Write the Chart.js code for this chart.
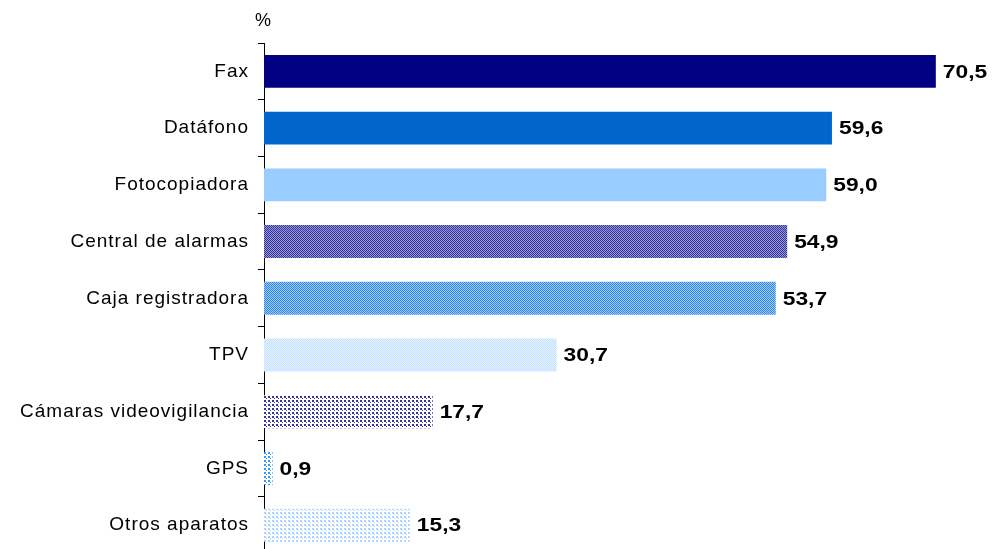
<!DOCTYPE html>
<html>
<head>
<meta charset="utf-8">
<script src="https://cdn.jsdelivr.net/npm/chart.js@4.4.1/dist/chart.umd.min.js"></script>
<style>
  html, body { margin: 0; padding: 0; background: #fff; overflow: hidden; }
</style>
</head>
<body>
<canvas id="equipos" width="993" height="574"></canvas>
<script>
// categories and values (%)
const categories = ["Fax", "Datáfono", "Fotocopiadora", "Central de alarmas", "Caja registradora", "TPV", "Cámaras videovigilancia", "GPS", "Otros aparatos"];
const values = [70.5, 59.6, 59.0, 54.9, 53.7, 30.7, 17.7, 0.9, 15.3];

// small tile patterns like the excel fills
function pattern(bg, fg, kind) {
  const c = document.createElement("canvas");
  c.width = 4; c.height = 4;
  const g = c.getContext("2d");
  g.fillStyle = bg;
  g.fillRect(0, 0, 4, 4);
  g.fillStyle = fg;
  if (kind === "checker") {
    for (let y = 0; y < 4; y++)
      for (let x = 0; x < 4; x++)
        if ((x + y) % 2 === 0) g.fillRect(x, y, 1, 1);
  } else {
    // dots
    g.fillRect(0, 0, 2, 2);
    g.fillRect(2, 2, 1, 1);
  }
  return g.createPattern(c, "repeat");
}

const ctx = document.getElementById("equipos").getContext("2d");

const colors = [
  "#000080",
  "#0066CC",
  "#99CCFF",
  pattern("#9999D6", "#333399", "checker"),
  pattern("#99CCFF", "#3385E0", "checker"),
  pattern("#E6F2FF", "#C2E0FF", "checker"),
  pattern("#FFFFFF", "#333399", "dots"),
  pattern("#FFFFFF", "#3399FF", "dots"),
  pattern("#FFFFFF", "#A8D3FF", "dots"),
];

const spacing = {
  id: "spacing",
  beforeDraw(chart) {
    chart.ctx.letterSpacing = "1px";
  },
};

const valueLabels = {
  id: "valueLabels",
  afterDatasetsDraw(chart) {
    const c = chart.ctx;
    const meta = chart.getDatasetMeta(0);
    c.save();
    c.letterSpacing = "0px";
    c.font = "bold 19px 'Liberation Sans', Arial, sans-serif";
    c.fillStyle = "#000";
    c.textBaseline = "middle";
    meta.data.forEach((bar, i) => {
      c.save();
      c.translate(bar.x + 7, bar.y + 1);
      c.scale(1.2, 1);
      c.fillText(values[i].toFixed(1).replace(".", ","), 0, 0);
      c.restore();
    });
    // "%" axis caption
    c.font = "18px 'Liberation Sans', Arial, sans-serif";
    c.textAlign = "center";
    c.fillText("%", 263, 21);
    c.restore();
  },
};

let myChart = new Chart(ctx, {
  type: "bar",
  data: {
    labels: categories,
    datasets: [
      {
        data: values,
        backgroundColor: colors,
        barPercentage: 0.58,
        categoryPercentage: 1,
      },
    ],
  },
  options: {
    indexAxis: "y",
    responsive: false,
    animation: false,
    layout: { padding: { top: 43, bottom: 2, left: 0, right: 0 } },
    plugins: {
      legend: { display: false },
      tooltip: { enabled: false },
    },
    scales: {
      x: {
        display: false,
        min: 0,
        max: 76.5,
      },
      y: {
        afterFit(scale) {
          scale.width = 264;
        },
        border: { display: true, color: "#000", width: 1 },
        grid: {
          display: true,
          drawOnChartArea: false,
          offset: true,
          color: "#000",
          tickLength: 6,
        },
        ticks: {
          color: "#000",
          padding: 9,
          font: { family: "'Liberation Sans', Arial, sans-serif", size: 19 },
        },
      },
    },
  },
  plugins: [spacing, valueLabels],
});
</script>
</body>
</html>
